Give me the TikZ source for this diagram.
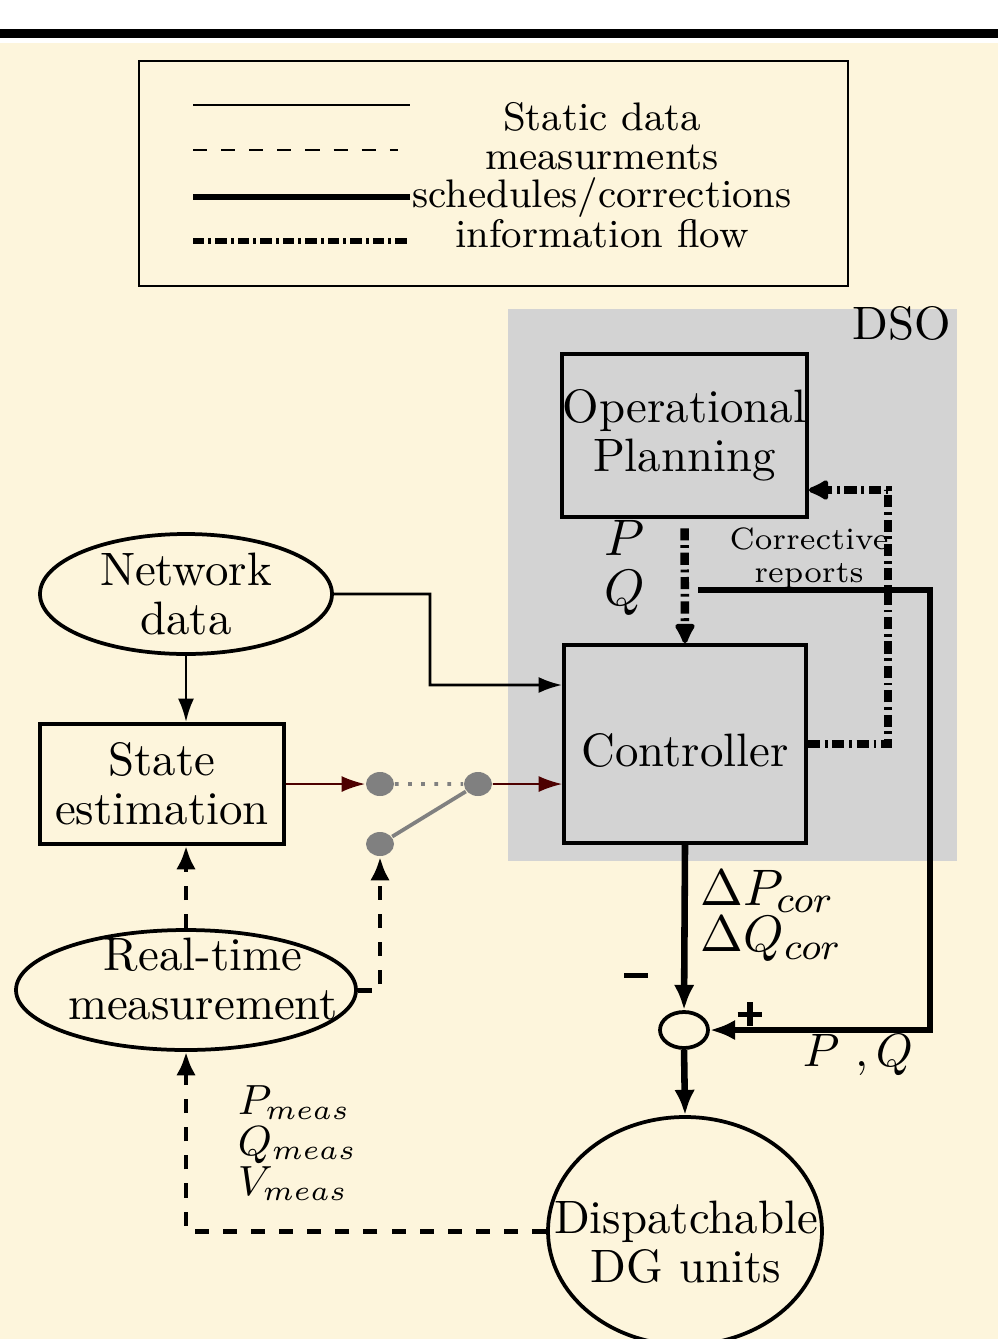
\documentclass[tikz,border=0pt]{standalone}
\usepackage{amsmath,amssymb}
\usepackage{tikz}
\usetikzlibrary{arrows.meta,shapes.geometric,positioning}
\usepackage{xcolor}
\definecolor{cream}{RGB}{253,245,220}
\definecolor{dsogray}{RGB}{211,211,211}
\definecolor{wirered}{RGB}{77,0,0}
\newcommand{\minussign}{\rule[1.9pt]{5pt}{1.2pt}}
\newcommand{\plussign}{\rlap{\rule[1.9pt]{5.2pt}{1.2pt}}\hspace{2pt}\rule{1.2pt}{5.2pt}\hspace{2pt}}
\tikzset{
  txt/.style={font=\fontsize{10}{10.4}\selectfont,align=center},
  block/.style={txt,draw,thick,inner sep=0pt},
  blob/.style={txt,ellipse,draw,thick,inner sep=0pt},
  swdot/.style={ellipse,fill=gray,inner sep=0pt,minimum width=.21cm,minimum height=.18cm},
  staticline/.style={semithick,>={Latex[length=5pt,width=3.4pt]}},
  measline/.style={line width=1.05pt,dashed,>={Latex[length=5pt,width=4.2pt]}},
  schedline/.style={line width=1.4pt,>={Latex[length=5.4pt,width=4.4pt]}},
  infoline/.style={line width=1.8pt,dash pattern=on 2.6pt off 1pt on .6pt off 1pt,
    >={Latex[round,length=5.3pt,width=5.2pt]}},
  legtxt/.style={font=\fontsize{8.5}{10}\selectfont,anchor=base},
  biglbl/.style={font=\fontsize{11}{11}\selectfont,inner sep=0pt}
}
\begin{document}
\begin{tikzpicture}[scale=.75]
        % background
        \fill[white] (0,0) rectangle (9.98,-13.39);
        \fill[black] (0,-.29) rectangle (9.98,-.38);
        \fill[cream] (0,-.43) rectangle (9.98,-13.39);
        \useasboundingbox (0,0) rectangle (9.98,-13.39);
        \fill[dsogray] (5.08,-3.09) rectangle (9.57,-8.61);
        \node[txt] (dso) at (9.02,-3.23) {DSO};
        % legend
        \draw[thin] (1.39,-.61) rectangle (8.48,-2.86);
        \draw[semithick] (1.93,-1.05) -- (4.10,-1.05);
        \draw[semithick,dashed] (1.93,-1.50) -- (3.98,-1.50);
        \draw[line width=1.2pt] (1.93,-1.97) -- (4.10,-1.97);
        \draw[line width=1.3pt,dash pattern=on 2.4pt off .9pt on .6pt off .9pt] (1.93,-2.41) -- (4.10,-2.41);
        \node[legtxt] (lg1) at (6.02,-1.30) {Static data};
        \node[legtxt] (lg2) at (6.02,-1.69) {measurments};
        \node[legtxt] (lg3) at (6.02,-2.07) {schedules/corrections};
        \node[legtxt] (lg4) at (6.02,-2.47) {information flow};
        % blocks
        \node[block,minimum width=1.8375cm,minimum height=1.2225cm] (plan) at (6.845,-4.355) {Operational\\Planning};
        \node[block,minimum width=1.815cm,minimum height=1.485cm] (ctrl) at (6.85,-7.44) {};
        \node[txt] (ctrltxt) at (6.85,-7.50) {Controller};
        \node[blob,minimum width=2.19cm,minimum height=.9cm] (net) at (1.86,-5.94) {Network\\data};
        \node[block,minimum width=1.83cm,minimum height=.9cm] (se) at (1.62,-7.84) {State\\estimation};
        \node[blob,minimum width=2.55cm,minimum height=.9cm] (rtm) at (1.86,-9.90) {};
        \node[txt] (rtmtxt) at (2.03,-9.79) {Real-time\\measurement};
        \node[blob,minimum width=2.055cm,minimum height=1.71cm] (disp) at (6.85,-12.31) {};
        \node[txt] (disptxt) at (6.86,-12.42) {Dispatchable\\DG units};
        \node[ellipse,draw,thick,inner sep=0pt,minimum width=.36cm,minimum height=.27cm] (sum) at (6.84,-10.30) {};
        % switch
        \node[swdot] (sw1) at (3.80,-7.84) {};
        \node[swdot] (sw2) at (4.78,-7.84) {};
        \node[swdot] (sw3) at (3.80,-8.44) {};
        \draw[gray,thick,dotted] (sw1) -- (sw2);
        \draw[gray,thick] (sw3) -- (sw2);
        % static data
        \draw[staticline,->] (net.south) -- (net.south |- se.north);
        \draw[staticline,->] (net.east) -- (4.30,-5.94) |- (ctrl.west |- 0,-6.85);
        \draw[staticline,wirered,thin,->] (se.east) -- (sw1);
        \draw[staticline,wirered,thin,->] (sw2) -- (ctrl.west |- sw2);
        % measurements
        \draw[measline,->] (rtm.north) -- (rtm.north |- se.south);
        \draw[measline,->] (rtm.east) -| (sw3);
        \draw[measline,->] (disp.west) -| (rtm.south);
        % schedules / corrections
        \coordinate (pqstart) at (6.98,-5.90);
        \coordinate (pqturn) at (9.30,-5.90);
        \draw[schedline,->] (pqstart) -- (pqturn) |- (sum.east);
        \draw[schedline,->] (ctrl.south) -- (sum.north);
        \draw[schedline,->] (sum.south) -- (disp.north);
        % information flow
        \coordinate (infoturn) at (8.88,-7.44);
        \draw[infoline,->,shorten <=2pt] (plan.south) -- (ctrl.north);
        \draw[infoline,->] (ctrl.east) -- (infoturn) |- (plan.east |- 0,-4.90);
        % labels
        \node[biglbl] (plbl) at (6.25,-5.38) {$P$};
        \node[biglbl] (qlbl) at (6.25,-5.93) {$Q$};
        \node[txt,font=\fontsize{6.6}{7}\selectfont] (corlbl) at (8.09,-5.58) {Corrective\\reports};
        \node[anchor=west,align=left,font=\fontsize{11}{10}\selectfont,inner sep=0pt] (dlbl) at (7.00,-9.16) {$\Delta P_{cor}$\\$\Delta Q_{cor}$};
        \node[inner sep=0pt] (minus) at (6.36,-9.80) {\minussign};
        \node[inner sep=0pt] (plus) at (7.45,-10.14) {\plussign};
        \node[font=\fontsize{10}{10}\selectfont] (pqback) at (8.58,-10.55) {$P$ $,Q$};
        \node[anchor=west,align=left,font=\fontsize{8.6}{8.6}\selectfont,inner sep=0pt] (mlbl) at (2.37,-11.43) {$P_{meas}$\\$Q_{meas}$\\$V_{meas}$};
\end{tikzpicture}
\end{document}
